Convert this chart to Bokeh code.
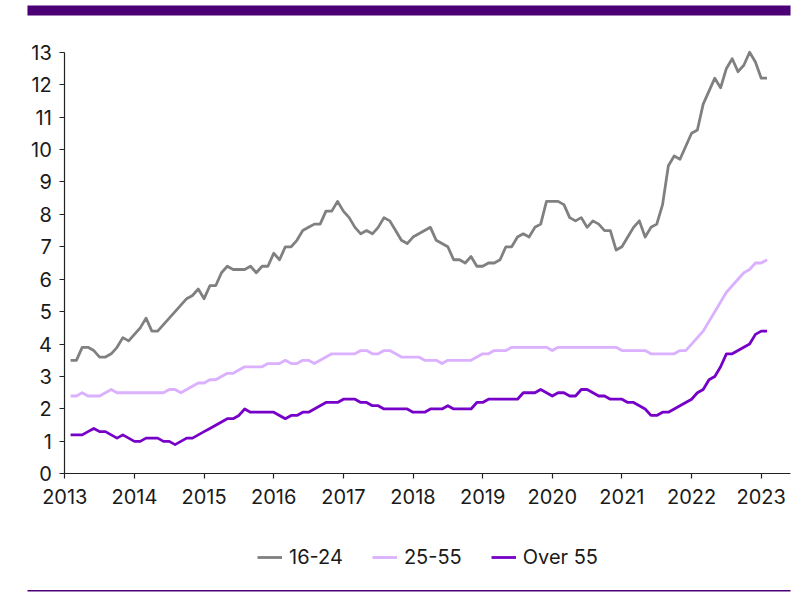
from bokeh.plotting import figure
from bokeh.models import Range1d, FixedTicker, Legend, LegendItem, ColumnDataSource, BoxAnnotation
from bokeh.embed import file_html
from bokeh.resources import INLINE

# Monthly periods (Jan 2013 .. Jan 2023)
months = [f"{2013 + k // 12}-{k % 12 + 1:02d}" for k in range(121)]

age_16_24 = [3.5, 3.5, 3.9, 3.9, 3.8, 3.6, 3.6, 3.7, 3.9, 4.2, 4.1, 4.3, 4.5, 4.8, 4.4, 4.4,
             4.6, 4.8, 5.0, 5.2, 5.4, 5.5, 5.7, 5.4, 5.8, 5.8, 6.2, 6.4, 6.3, 6.3, 6.3, 6.4,
             6.2, 6.4, 6.4, 6.8, 6.6, 7.0, 7.0, 7.2, 7.5, 7.6, 7.7, 7.7, 8.1, 8.1,
             8.4, 8.1, 7.9, 7.6, 7.4, 7.5, 7.4, 7.6, 7.9, 7.8, 7.5, 7.2, 7.1, 7.3, 7.4, 7.5,
             7.6, 7.2, 7.1, 7.0, 6.6, 6.6, 6.5, 6.7, 6.4, 6.4, 6.5, 6.5, 6.6, 7.0, 7.0, 7.3,
             7.4, 7.3, 7.6, 7.7, 8.4, 8.4, 8.4, 8.3, 7.9,
             7.8, 7.9, 7.6, 7.8, 7.7, 7.5, 7.5, 6.9, 7.0, 7.3, 7.6, 7.8, 7.3, 7.6, 7.7, 8.3,
             9.5, 9.8, 9.7, 10.1, 10.5, 10.6, 11.4, 11.8, 12.2, 11.9, 12.5, 12.8, 12.4, 12.6,
             13.0, 12.7, 12.2, 12.2]

age_25_55 = [2.4, 2.4, 2.5, 2.4, 2.4, 2.4, 2.5, 2.6, 2.5, 2.5, 2.5, 2.5, 2.5, 2.5, 2.5, 2.5,
             2.5, 2.6, 2.6, 2.5, 2.6, 2.7, 2.8, 2.8, 2.9, 2.9, 3.0, 3.1, 3.1, 3.2, 3.3, 3.3,
             3.3, 3.3, 3.4, 3.4, 3.4, 3.5, 3.4, 3.4, 3.5, 3.5, 3.4, 3.5, 3.6, 3.7, 3.7, 3.7,
             3.7, 3.7, 3.8, 3.8, 3.7, 3.7, 3.8, 3.8, 3.7, 3.6, 3.6, 3.6, 3.6, 3.5, 3.5, 3.5,
             3.4, 3.5, 3.5, 3.5, 3.5, 3.5, 3.6, 3.7, 3.7, 3.8, 3.8, 3.8, 3.9, 3.9, 3.9, 3.9,
             3.9, 3.9, 3.9, 3.8, 3.9, 3.9, 3.9, 3.9, 3.9, 3.9, 3.9, 3.9, 3.9, 3.9, 3.9, 3.8,
             3.8, 3.8, 3.8, 3.8, 3.7, 3.7, 3.7, 3.7, 3.7, 3.8, 3.8, 4.0, 4.2, 4.4, 4.7, 5.0,
             5.3, 5.6, 5.8, 6.0, 6.2, 6.3, 6.5, 6.5, 6.6]

over_55 = [1.2, 1.2, 1.2, 1.3, 1.4, 1.3, 1.3, 1.2, 1.1, 1.2, 1.1, 1.0, 1.0, 1.1, 1.1, 1.1,
           1.0, 1.0, 0.9, 1.0, 1.1, 1.1, 1.2, 1.3, 1.4, 1.5, 1.6, 1.7, 1.7, 1.8, 2.0, 1.9,
           1.9, 1.9, 1.9, 1.9, 1.8, 1.7, 1.8, 1.8, 1.9, 1.9, 2.0, 2.1, 2.2, 2.2, 2.2, 2.3,
           2.3, 2.3, 2.2, 2.2, 2.1, 2.1, 2.0, 2.0, 2.0, 2.0, 2.0, 1.9, 1.9, 1.9, 2.0, 2.0,
           2.0, 2.1, 2.0, 2.0, 2.0, 2.0, 2.2, 2.2, 2.3, 2.3, 2.3, 2.3, 2.3, 2.3, 2.5, 2.5,
           2.5, 2.6, 2.5, 2.4, 2.5, 2.5, 2.4, 2.4, 2.6, 2.6, 2.5, 2.4, 2.4, 2.3, 2.3, 2.3,
           2.2, 2.2, 2.1, 2.0, 1.8, 1.8, 1.9, 1.9, 2.0, 2.1, 2.2, 2.3, 2.5, 2.6, 2.9, 3.0,
           3.3, 3.7, 3.7, 3.8, 3.9, 4.0, 4.3, 4.4, 4.4]

year_ticks = [2013, 2014, 2015, 2016, 2017, 2018, 2019, 2020, 2021, 2022, 2023]
value_ticks = [0, 1, 2, 3, 4, 5, 6, 7, 8, 9, 10, 11, 12, 13]

series_names = ["16-24", "25-55", "Over 55"]
series_colors = ["#808080", "#dab0ff", "#7700c8"]

# period-ending position of each month on a decimal-year axis
xpos = [int(m[:4]) + int(m[5:]) / 12 for m in months]

FONT = "Inter"
PURPLE_DARK = "#4b0076"

# The frame fills the whole canvas; axes are pinned at 2013 / 0.
p = figure(width=800, height=592,
           x_range=Range1d(2012.0767, 2023.564), y_range=Range1d(-3.660, 14.595),
           output_backend="svg", toolbar_location=None, min_border=0,
           outline_line_color=None)
p.grid.visible = False

src = ColumnDataSource(dict(x=xpos, a=age_16_24, b=age_25_55, c=over_55))
renderers = []
for col, color in zip(["a", "b", "c"], series_colors):
    r = p.line("x", col, source=src, line_color=color, line_width=2.8,
               line_join="round")
    renderers.append(r)

for ax in (p.xaxis[0], p.yaxis[0]):
    ax.axis_line_color = "#222222"
    ax.axis_line_width = 1.2
    ax.major_tick_line_color = "#222222"
    ax.major_tick_line_width = 1.2
    ax.major_tick_in = 0
    ax.major_tick_out = 5
    ax.minor_tick_line_color = None
    ax.major_label_text_font = FONT
    ax.major_label_text_font_size = "20px"
    ax.major_label_text_color = "#1a1a1a"

p.xaxis.ticker = FixedTicker(ticks=year_ticks)
p.yaxis.ticker = FixedTicker(ticks=value_ticks)
p.xaxis.fixed_location = 0
p.yaxis.fixed_location = 2013
p.xaxis.bounds = (2013, 2023.42)
p.yaxis.bounds = (0, 13)
p.xaxis.major_label_standoff = 10
p.yaxis.major_label_standoff = 8

# decorative top bar and bottom rule
p.add_layout(BoxAnnotation(top=14.44, bottom=14.132, left=2012.464, right=2023.421,
                           fill_color=PURPLE_DARK, fill_alpha=1, line_color=None))
p.add_layout(BoxAnnotation(top=-3.583, bottom=-3.629, left=2012.464, right=2023.421,
                           fill_color=PURPLE_DARK, fill_alpha=1, line_color=None))

legend = Legend(items=[LegendItem(label=n, renderers=[r]) for n, r in zip(series_names, renderers)],
                orientation="horizontal", location=(257, 23),
                border_line_color=None, background_fill_alpha=0,
                label_text_font=FONT, label_text_font_size="20px",
                label_text_color="#1a1a1a", glyph_width=25, glyph_height=22,
                label_standoff=7, spacing=29, padding=0, margin=0)
p.add_layout(legend)

open("out.html", "w").write(file_html(p, INLINE))
